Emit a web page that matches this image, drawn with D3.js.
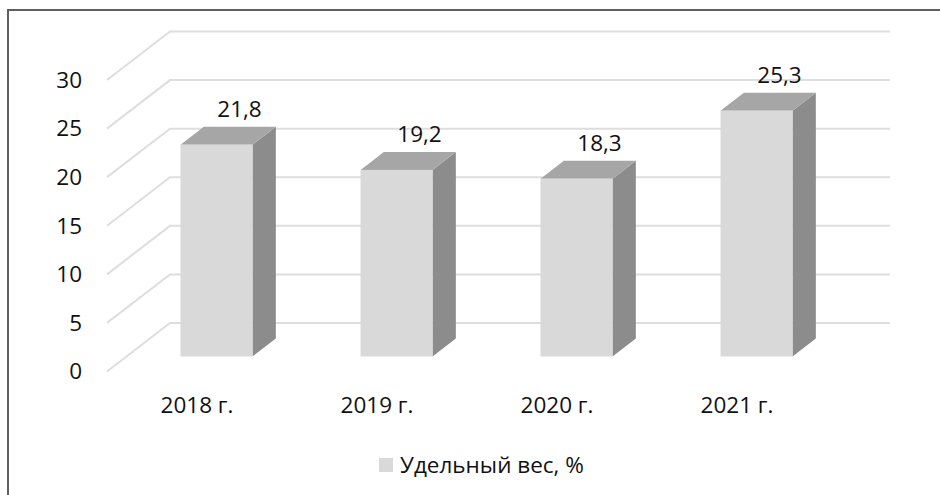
<!DOCTYPE html>
<html>
<head>
<meta charset="utf-8">
<script src="https://cdn.jsdelivr.net/npm/d3@7"></script>
<style>
  body { margin: 0; background: #fff; }
  svg { display: block; font-family: "Open Sans", "Noto Sans", sans-serif; }
</style>
</head>
<body>
<div id="chart"></div>
<script>
// данные
const categories = ["2018 г.", "2019 г.", "2020 г.", "2021 г."];
const values = [21.8, 19.2, 18.3, 25.3];
const valueLabels = ["21,8", "19,2", "18,3", "25,3"];
const yTicks = [0, 5, 10, 15, 20, 25, 30];
const seriesName = "Удельный вес, %";

const width = 940, height = 495;
const fontSize = 22.5;

const svg = d3.select("#chart")
  .append("svg")
  .attr("width", width)
  .attr("height", height);

// рамка
svg.append("rect")
  .attr("x", 8).attr("y", 10)
  .attr("width", 1000).attr("height", 600)
  .attr("fill", "none")
  .attr("stroke", "#5f5f5f")
  .attr("stroke-width", 2);

// 3D геометрия: передний край пола и глубина
const floorLeft = 107, floorRight = 827;
const depthX = 63, depthY = -48.5;

const y = d3.scaleLinear().domain([0, 30]).range([371.5, 80]);
const x = d3.scaleBand()
  .domain(categories)
  .range([floorLeft, floorRight])
  .paddingInner(0.6)
  .paddingOuter(0.3);

// сетка
const grid = svg.append("g").attr("class", "grid");
yTicks.forEach(t => {
  const yf = y(t);
  grid.append("path")
    .attr("d", `M${floorLeft},${yf} L${floorLeft + depthX},${yf + depthY} L${floorRight + depthX},${yf + depthY}`)
    .attr("fill", "none")
    .attr("stroke", "#dedede")
    .attr("stroke-width", 2);
});

// подписи оси Y
svg.append("g")
  .selectAll("text")
  .data(yTicks)
  .enter()
  .append("text")
  .attr("x", 82)
  .attr("y", d => y(d))
  .attr("dy", "0.35em")
  .attr("text-anchor", "end")
  .attr("font-size", fontSize)
  .attr("fill", "#111")
  .text(d => d);

// столбцы
const frontF = 0.31, backF = 0.68;
const bars = svg.append("g")
  .selectAll("g")
  .data(values)
  .enter()
  .append("g");

bars.each(function(v, i) {
  const g = d3.select(this);
  const bw = x.bandwidth();
  const x0 = x(categories[i]) + depthX * frontF;
  const x1 = x0 + bw;
  const dx = depthX * (backF - frontF);
  const dy = depthY * (backF - frontF);
  const yb = y(0) + depthY * frontF;
  const yt = y(v) + depthY * frontF;

  // правая грань
  g.append("path")
    .attr("d", `M${x1},${yb} L${x1 + dx},${yb + dy} L${x1 + dx},${yt + dy} L${x1},${yt} Z`)
    .attr("fill", "#8c8c8c");
  // верх
  g.append("path")
    .attr("d", `M${x0},${yt} L${x0 + dx},${yt + dy} L${x1 + dx},${yt + dy} L${x1},${yt} Z`)
    .attr("fill", "#a6a6a6");
  // передняя грань
  g.append("rect")
    .attr("x", x0).attr("y", yt)
    .attr("width", bw).attr("height", yb - yt)
    .attr("fill", "#d9d9d9");

  // значение
  g.append("text")
    .attr("x", x0 + bw / 2 + 23)
    .attr("y", yt + dy - 10)
    .attr("text-anchor", "middle")
    .attr("font-size", fontSize)
    .attr("fill", "#111")
    .text(valueLabels[i]);
});

// подписи категорий
svg.append("g")
  .selectAll("text")
  .data(categories)
  .enter()
  .append("text")
  .attr("x", d => x(d) + x.bandwidth() / 2)
  .attr("y", 413)
  .attr("text-anchor", "middle")
  .attr("font-size", fontSize)
  .attr("fill", "#111")
  .text(d => d);

// легенда
const legend = svg.append("g").attr("transform", "translate(379,458)");
legend.append("rect")
  .attr("width", 14).attr("height", 14)
  .attr("fill", "#d9d9d9");
legend.append("text")
  .attr("x", 21).attr("y", 7)
  .attr("dy", "0.35em")
  .attr("font-size", fontSize)
  .attr("fill", "#111")
  .text(seriesName);
</script>
</body>
</html>
